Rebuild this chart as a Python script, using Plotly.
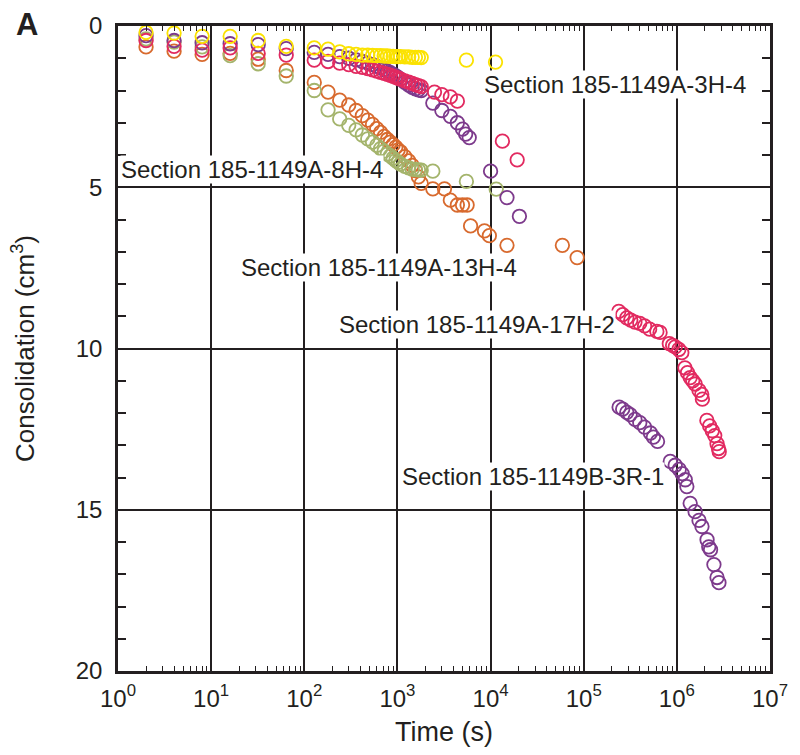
import plotly.graph_objects as go

# Shared sampling times (s) for the first part of each loading step
t_start = [2, 4, 8, 16, 32, 64, 128, 180, 240, 300, 360, 420, 480, 540, 600,
           660, 720, 780, 840, 900, 960, 1020, 1080, 1200, 1320, 1440, 1560,
           1680, 1800]

# Section 185-1149A-3H-4
y_3h4 = [0.2, 0.22, 0.32, 0.32, 0.45, 0.63, 0.68, 0.72, 0.8, 0.86, 0.88, 0.9,
         0.9, 0.91, 0.92, 0.92, 0.93, 0.93, 0.94, 0.94, 0.95, 0.95, 0.95, 0.96,
         0.96, 0.97, 0.97, 0.97, 0.98]
t_3h4_tail = [5500, 11300]
y_3h4_tail = [1.06, 1.12]

# Section 185-1149A-8H-4
y_8h4 = [0.4, 0.5, 0.65, 0.92, 1.17, 1.55, 2.0, 2.6, 2.88, 3.08, 3.22, 3.38,
         3.5, 3.6, 3.7, 3.8, 3.88, 3.97, 4.03, 4.1, 4.17, 4.23, 4.28, 4.35,
         4.4, 4.44, 4.45, 4.46, 4.47]
t_8h4_tail = [2400, 5500, 11500]
y_8h4_tail = [4.5, 4.82, 5.06]

# Section 185-1149A-13H-4
y_13h4 = [0.65, 0.78, 0.88, 0.85, 1.03, 1.38, 1.75, 2.05, 2.3, 2.45, 2.62,
          2.78, 2.92, 3.05, 3.18, 3.3, 3.42, 3.52, 3.6, 3.68, 3.76, 3.84, 3.9,
          4.05, 4.18, 4.32, 4.48, 4.68, 4.88]
t_13h4_tail = [2400, 3200, 3700, 4400, 5000, 5600, 6100, 8600, 9700, 15000,
               59000, 85000]
y_13h4_tail = [5.05, 5.05, 5.4, 5.55, 5.55, 5.55, 6.2, 6.35, 6.5, 6.8, 6.8,
               7.18]

# Section 185-1149A-17H-2
y_17h2 = [0.45, 0.63, 0.75, 0.68, 0.85, 0.9, 1.06, 1.1, 1.15, 1.2, 1.25, 1.28,
          1.32, 1.36, 1.4, 1.44, 1.47, 1.5, 1.53, 1.56, 1.59, 1.62, 1.65, 1.7,
          1.74, 1.78, 1.82, 1.85, 1.88]
t_17h2_tail = [2500, 3000, 3700, 4400, 13400, 19300,
               238000, 262000, 290000, 320000, 355000, 400000, 450000, 510000,
               610000, 660000, 830000, 900000, 960000, 1050000, 1130000,
               1220000, 1300000, 1390000, 1480000, 1570000, 1730000, 1850000,
               1880000, 2100000, 2250000, 2400000, 2550000, 2700000, 2800000,
               2850000]
y_17h2_tail = [2.05, 2.13, 2.2, 2.33, 3.57, 4.15,
               8.85, 8.95, 9.05, 9.12, 9.18, 9.22, 9.3, 9.4, 9.47, 9.5, 9.85,
               9.9, 9.95, 10.03, 10.13, 10.6, 10.75, 10.9, 11.0, 11.1, 11.3,
               11.42, 11.57, 12.23, 12.4, 12.55, 12.7, 12.95, 13.1, 13.2]

# Section 185-1149B-3R-1
y_3r1 = [0.3, 0.45, 0.52, 0.55, 0.58, 0.7, 0.82, 0.88, 0.95, 1.0, 1.05, 1.1,
         1.15, 1.2, 1.25, 1.3, 1.35, 1.4, 1.45, 1.5, 1.55, 1.6, 1.65, 1.75,
         1.83, 1.9, 1.95, 1.98, 2.0]
t_3r1_tail = [2400, 3000, 3700, 4400, 5000, 5400, 5900, 10000, 15000, 20400,
              240000, 262000, 290000, 315000, 355000, 400000, 450000, 520000,
              560000, 620000, 850000, 960000, 1060000, 1140000, 1230000,
              1280000, 1390000, 1570000, 1730000, 1860000, 2110000, 2200000,
              2300000, 2500000, 2700000, 2830000]
y_3r1_tail = [2.39, 2.62, 2.8, 3.0, 3.2, 3.35, 3.46, 4.5, 5.32, 5.9,
              11.82, 11.88, 11.98, 12.05, 12.2, 12.3, 12.44, 12.62, 12.75,
              12.88, 13.5, 13.62, 13.75, 13.88, 14.07, 14.28, 14.8, 15.06,
              15.33, 15.52, 15.93, 16.15, 16.24, 16.7, 17.1, 17.26]

# Series: name, times, values, colour (drawn bottom to top)
series = [
    ("Section 185-1149A-13H-4", t_start + t_13h4_tail, y_13h4 + y_13h4_tail, "#d86a2e"),
    ("Section 185-1149A-8H-4", t_start + t_8h4_tail, y_8h4 + y_8h4_tail, "#a4b46c"),
    ("Section 185-1149B-3R-1", t_start + t_3r1_tail, y_3r1 + y_3r1_tail, "#7d3a8c"),
    ("Section 185-1149A-17H-2", t_start + t_17h2_tail, y_17h2 + y_17h2_tail, "#e22a60"),
    ("Section 185-1149A-3H-4", t_start + t_3h4_tail, y_3h4 + y_3h4_tail, "#fbe200"),
]

# Label placement: (text, log10 time of left edge, consolidation)
labels = [
    ("Section 185-1149A-3H-4", 3.92, 1.8),
    ("Section 185-1149A-8H-4", 0.02, 4.45),
    ("Section 185-1149A-13H-4", 1.31, 7.5),
    ("Section 185-1149A-17H-2", 2.36, 9.25),
    ("Section 185-1149B-3R-1", 3.04, 13.98),
]

x_tick_vals = [1, 10, 100, 1000, 10000, 100000, 1000000, 10000000]
x_tick_text = ["10<sup>%d</sup>" % i for i in range(8)]
y_tick_vals = [0, 5, 10, 15, 20]

FONT = "Liberation Sans, Arial, sans-serif"
INK = "#231f20"

fig = go.Figure()
for name, t, y, col in series:
    fig.add_trace(go.Scatter(
        x=t, y=y, mode="markers", name=name,
        marker=dict(symbol="circle-open", size=13.5, color=col,
                    line=dict(width=1.8, color=col)),
    ))

for text, lx, ly in labels:
    fig.add_annotation(
        x=lx, y=ly, xref="x", yref="y", text=text, showarrow=False,
        xanchor="left", yanchor="middle", bgcolor="white", borderpad=0,
        font=dict(family=FONT, size=24, color=INK),
    )

fig.add_annotation(
    x=-0.139, y=1.003, xref="paper", yref="paper", text="<b>A</b>",
    showarrow=False, xanchor="center", yanchor="middle",
    font=dict(family=FONT, size=31, color=INK),
)

axis_common = dict(
    showline=True, linecolor=INK, linewidth=2.5, mirror="allticks",
    showgrid=True, gridcolor=INK, gridwidth=1.5, zeroline=False,
    ticks="inside", ticklen=8, tickwidth=1.5, tickcolor=INK,
    tickfont=dict(family=FONT, size=24, color=INK),
)

fig.update_layout(
    width=800, height=755,
    margin=dict(l=118, r=27, t=21, b=84),
    paper_bgcolor="white", plot_bgcolor="white",
    showlegend=False,
    font=dict(family=FONT, color=INK),
    xaxis=dict(
        type="log", range=[0, 7], tickvals=x_tick_vals, ticktext=x_tick_text,
        ticklabelstandoff=4,
        title=dict(text="Time (s)", font=dict(family=FONT, size=27), standoff=12),
        minor=dict(ticks="inside", ticklen=5, tickwidth=1.2,
                   tickcolor=INK, dtick="D1", showgrid=False),
        **axis_common,
    ),
    yaxis=dict(
        range=[20, 0], tickvals=y_tick_vals, ticklabelstandoff=8,
        title=dict(text="Consolidation (cm<sup>3</sup>)",
                   font=dict(family=FONT, size=26), standoff=34),
        minor=dict(ticks="inside", ticklen=8, tickwidth=1.5,
                   tickcolor=INK, dtick=1, showgrid=False),
        **axis_common,
    ),
)

fig.write_html("out.html")
